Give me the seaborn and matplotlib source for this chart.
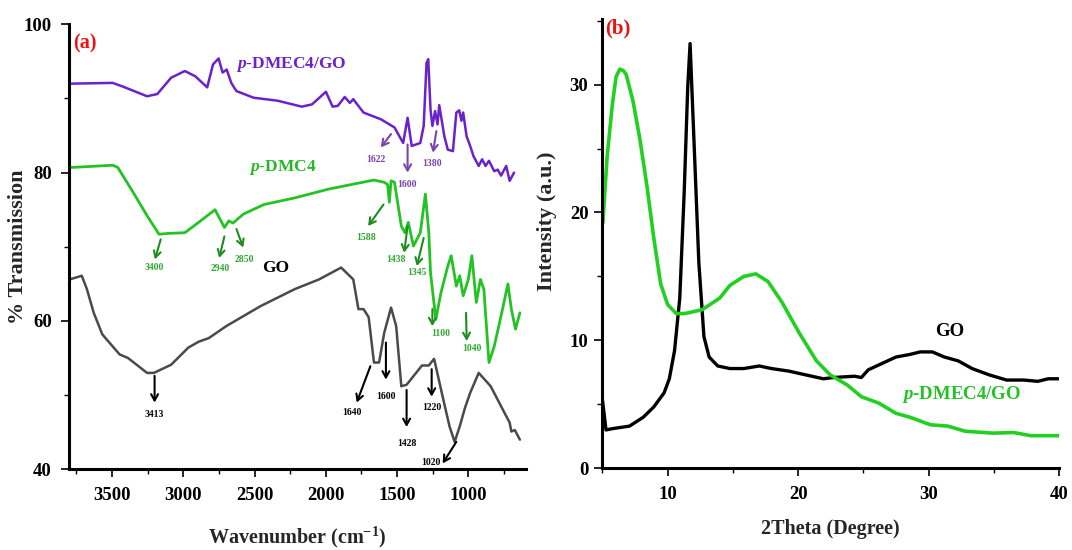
import matplotlib
matplotlib.use('Agg')
import matplotlib.pyplot as plt
import seaborn as sns

# ---------------- FTIR (panel a) ----------------
dmec4go_wn = [3785, 3495, 3423, 3254, 3182, 3085, 2989, 2916, 2832, 2791, 2752, 2724, 2695, 2663, 2627,
              2506, 2338, 2169, 2097, 1999, 1952, 1916, 1867, 1831, 1807, 1735, 1614, 1518, 1457, 1426,
              1397, 1337, 1313, 1293, 1281, 1265, 1252, 1233, 1216, 1204, 1168, 1144, 1108, 1084, 1064,
              1048, 1036, 1012, 987, 963, 927, 903, 879, 855, 818, 794, 770, 734, 710, 679]
dmec4go_T = [92.0, 92.1, 91.6, 90.3, 90.6, 92.8, 93.7, 93.0, 91.5, 94.6, 95.4, 93.5, 93.9, 92.1, 91.0,
             90.1, 89.7, 88.9, 89.2, 90.9, 88.9, 89.0, 90.2, 89.4, 89.9, 88.1, 87.2, 86.1, 84.0, 87.4,
             83.6, 84.0, 86.3, 94.8, 95.3, 88.5, 86.3, 88.3, 86.5, 89.1, 84.9, 83.1, 82.9, 88.1, 88.4,
             87.0, 88.1, 84.9, 83.6, 82.2, 80.9, 81.8, 80.9, 81.6, 80.2, 80.4, 79.6, 80.9, 78.9, 80.0]

dmc4_wn = [3785, 3495, 3459, 3350, 3254, 3170, 3109, 2989, 2892, 2777, 2711, 2680, 2651, 2579, 2434,
           2217, 1976, 1662, 1590, 1566, 1554, 1542, 1518, 1470, 1445, 1421, 1385, 1337, 1301, 1277,
           1265, 1252, 1228, 1192, 1144, 1120, 1084, 1060, 1036, 1000, 975, 944, 915, 891, 855,
           818, 770, 722, 698, 669, 638]
dmc4_T = [80.7, 81.0, 80.7, 77.3, 74.2, 71.7, 71.8, 71.9, 73.3, 75.0, 72.6, 73.5, 73.2, 74.4, 75.7,
          76.6, 77.8, 79.0, 78.7, 78.4, 76.0, 78.9, 78.7, 72.8, 71.9, 73.3, 70.1, 71.9, 77.1, 71.9,
          66.5, 64.3, 60.2, 63.8, 67.4, 68.8, 64.7, 66.1, 63.4, 65.6, 68.8, 62.5, 65.6, 64.3, 54.4,
          56.6, 60.7, 65.0, 61.6, 58.9, 61.1]

go_wn = [3797, 3712, 3676, 3628, 3568, 3447, 3387, 3254, 3206, 3085, 2965, 2892, 2820, 2699, 2458,
         2217, 2048, 1892, 1807, 1771, 1735, 1699, 1662, 1626, 1590, 1542, 1506, 1470, 1433, 1325,
         1277, 1240, 1180, 1132, 1096, 1060, 1023, 987, 927, 843, 770, 710, 698, 674, 638]
go_T = [65.6, 66.1, 64.3, 61.1, 58.2, 55.5, 55.0, 53.0, 53.0, 54.1, 56.4, 57.2, 57.7, 59.3, 62.0,
        64.3, 65.6, 67.2, 65.6, 61.6, 61.6, 60.5, 54.4, 54.4, 58.4, 61.8, 59.3, 51.2, 51.4, 54.0,
        54.0, 54.9, 49.8, 45.8, 43.7, 45.8, 48.3, 50.3, 53.0, 51.2, 48.5, 46.3, 45.1, 45.3, 44.0]

# ---------------- XRD (panel b) ----------------
xrd_dmec4go_2theta = [5.04, 5.36, 5.76, 6.05, 6.34, 6.60, 6.82, 7.35, 7.88, 8.41, 8.94, 9.47, 10.0, 10.66,
                      11.33, 12.65, 13.98, 14.77, 15.83, 16.76, 17.69, 18.75, 20.07, 21.40, 22.46, 23.78,
                      24.84, 26.17, 27.49, 28.55, 30.14, 31.47, 32.79, 34.91, 36.5, 37.83, 39.95]
xrd_dmec4go_I = [19.2, 24.3, 28.4, 30.6, 31.2, 31.1, 30.8, 28.7, 25.7, 22.1, 18.0, 14.4, 12.8, 12.1,
                 12.1, 12.4, 13.3, 14.3, 15.0, 15.2, 14.6, 13.0, 10.6, 8.4, 7.3, 6.5,
                 5.6, 5.1, 4.3, 4.0, 3.4, 3.3, 2.9, 2.75, 2.8, 2.55, 2.55]

xrd_go_2theta = [5.0, 5.28, 5.76, 7.08, 8.14, 8.94, 9.73, 10.13, 10.53, 10.93, 11.27, 11.54, 11.72, 12.07,
                 12.39, 12.78, 13.18, 13.84, 14.77, 15.83, 17.02, 17.95, 19.28, 20.60, 21.93, 22.72,
                 24.31, 24.84, 25.37, 26.43, 27.49, 28.55, 29.35, 30.28, 31.20, 32.26, 33.32, 34.65,
                 35.97, 37.30, 38.36, 39.15, 39.95]
xrd_go_I = [5.4, 3.0, 3.1, 3.3, 4.0, 4.8, 5.9, 7.0, 9.2, 13.3, 21.6, 29.8, 33.2, 24.3,
            16.1, 10.3, 8.7, 8.0, 7.8, 7.8, 8.0, 7.8, 7.6, 7.3, 7.0, 7.1,
            7.2, 7.1, 7.7, 8.2, 8.7, 8.9, 9.1, 9.1, 8.7, 8.4, 7.8, 7.3,
            6.9, 6.9, 6.8, 7.0, 7.0]

xticks_a = [3500, 3000, 2500, 2000, 1500, 1000]
yticks_a = [40, 60, 80, 100]
xticks_b = [10, 20, 30, 40]
yticks_b = [0, 10, 20, 30]

# peak annotations: label, text position, arrow start, arrow end
purple_ann = [("1622", (1650, 81.8), (1542, 85.2), (1614, 83.4)),
              ("1600", (1433, 78.4), (1426, 83.8), (1426, 80.0)),
              ("1380", (1252, 81.2), (1224, 85.6), (1248, 82.7))]
green_ann = [("3400", (3206, 67.2), (3158, 71.0), (3199, 68.3)),
             ("2940", (2743, 67.1), (2711, 71.4), (2748, 68.5)),
             ("2850", (2572, 68.3), (2627, 72.4), (2579, 69.9)),
             ("1588", (1718, 71.2), (1595, 75.7), (1703, 72.8)),
             ("1438", (1506, 68.3), (1426, 72.8), (1450, 69.2)),
             ("1345", (1361, 66.6), (1313, 71.2), (1361, 67.4)),
             ("1100", (1192, 58.3), (1252, 61.6), (1252, 59.3)),
             ("1040", (975, 56.3), (1016, 61.1), (1011, 57.3))]
black_ann = [("3413", (3206, 47.4), (3201, 52.6), (3201, 49.0)),
             ("1640", (1819, 47.6), (1687, 53.9), (1783, 49.0)),
             ("1600", (1578, 49.8), (1578, 57.1), (1578, 52.1)),
             ("1428", (1433, 43.5), (1433, 50.7), (1433, 45.7)),
             ("1220", (1257, 48.4), (1257, 53.5), (1257, 49.8)),
             ("1020", (1265, 40.9), (1084, 43.7), (1180, 40.8))]

# ---------------- style ----------------
sns.set_style('ticks')
plt.rcParams['font.family'] = ['Liberation Serif', 'DejaVu Serif']
plt.rcParams['font.weight'] = 'bold'
plt.rcParams['axes.labelweight'] = 'bold'
plt.rcParams['mathtext.fontset'] = 'custom'
plt.rcParams['mathtext.rm'] = 'Liberation Serif:bold'
plt.rcParams['mathtext.it'] = 'Liberation Serif:bold:italic'
plt.rcParams['mathtext.bf'] = 'Liberation Serif:bold'

PURPLE = '#6a22cc'
PURPLE_TXT = '#7a45a8'
GREEN = '#22c322'
GREEN_TXT = '#30a830'
GREEN_ARR = '#1f8c1f'
GRAY = '#4a4a4a'
GREEN_B = '#22d022'

fig = plt.figure(figsize=(10.72, 5.5), dpi=100)
axL = fig.add_axes([0.0639, 0.1467, 0.4268, 0.8091])
axR = fig.add_axes([0.5619, 0.1485, 0.4262, 0.8164])

sns.lineplot(x=dmec4go_wn, y=dmec4go_T, ax=axL, color=PURPLE, linewidth=1.8, sort=False, estimator=None)
sns.lineplot(x=dmc4_wn, y=dmc4_T, ax=axL, color=GREEN, linewidth=2.0, sort=False, estimator=None)
sns.lineplot(x=go_wn, y=go_T, ax=axL, color=GRAY, linewidth=1.8, sort=False, estimator=None)

sns.lineplot(x=xrd_go_2theta, y=xrd_go_I, ax=axR, color='black', linewidth=2.4, sort=False, estimator=None)
sns.lineplot(x=xrd_dmec4go_2theta, y=xrd_dmec4go_I, ax=axR, color=GREEN_B, linewidth=2.6, sort=False,
             estimator=None)

for ax in (axL, axR):
    sns.despine(ax=ax)
    for s in ('left', 'bottom'):
        ax.spines[s].set_linewidth(2.2)
        ax.spines[s].set_color('black')
    ax.tick_params(which='major', direction='out', length=6, width=1.2, colors='black', labelsize=13.5)
    ax.tick_params(which='minor', direction='out', length=3.5, width=1.0, colors='black')
    for lab in ax.get_xticklabels() + ax.get_yticklabels():
        lab.set_fontweight('bold')

# panel a axes
axL.set_xlim(3805, 595)
axL.set_ylim(40, 100)
axL.set_xticks(xticks_a)
axL.set_xticks([3750, 3250, 2750, 2250, 1750, 1250, 750], minor=True)
axL.set_yticks(yticks_a)
axL.set_yticks([50, 70, 90], minor=True)
axL.tick_params(axis='x', which='major', pad=7)
axL.tick_params(axis='y', which='major', pad=6)
axL.set_xlabel('Wavenumber (cm$^{-1}$)', fontsize=14.5, fontweight='bold', va='center', ha='center')
axL.xaxis.set_label_coords(0.5, -0.152)
axL.set_ylabel('% Transmission', fontsize=16, fontweight='bold', va='center', ha='center')
axL.yaxis.set_label_coords(-0.110, 0.5)

# panel b axes
axR.set_xlim(5, 40)
axR.set_ylim(0, 35.1)
axR.set_xticks(xticks_b)
axR.set_xticks([5, 15, 25, 35], minor=True)
axR.set_yticks(yticks_b)
axR.set_yticks([5, 15, 25, 35], minor=True)
axR.tick_params(axis='x', which='major', pad=7)
axR.tick_params(axis='y', which='major', pad=4)
axR.set_xlabel('2Theta (Degree)', fontsize=14.5, fontweight='bold', va='center', ha='center')
axR.xaxis.set_label_coords(0.5, -0.135)
axR.set_ylabel('Intensity (a.u.)', fontsize=16, fontweight='bold', va='center', ha='center')
axR.yaxis.set_label_coords(-0.121, 0.551)


def annotate(ax, items, txt_color, arr_color):
    for label, tpos, start, end in items:
        ax.annotate('', xy=end, xytext=start,
                    arrowprops=dict(arrowstyle='->,head_length=0.45,head_width=0.25',
                                    color=arr_color, lw=1.5, shrinkA=0, shrinkB=0))
        ax.text(tpos[0], tpos[1], label, fontsize=7, fontweight='bold', color=txt_color,
                ha='center', va='center')


annotate(axL, purple_ann, PURPLE_TXT, PURPLE_TXT)
annotate(axL, green_ann, GREEN_TXT, GREEN_ARR)
annotate(axL, black_ann, 'black', 'black')

axL.text(2241, 94.6, r'$p$-DMEC4/GO', fontsize=12.5, color=PURPLE, ha='center', va='center')
axL.text(2301, 80.7, r'$p$-DMC4', fontsize=12.5, color='#27b827', ha='center', va='center')
axL.text(2350, 67.2, 'GO', fontsize=12.5, color='black', ha='center', va='center')
axL.text(3687, 97.4, '(a)', fontsize=14.5, color='#ee1111', ha='center', va='center')

axR.text(31.6, 10.7, 'GO', fontsize=13.5, color='black', ha='center', va='center')
axR.text(32.5, 5.8, r'$p$-DMEC4/GO', fontsize=13.5, color='#22c322', ha='center', va='center')
axR.text(6.2, 34.4, '(b)', fontsize=15, color='#ee1111', ha='center', va='center', clip_on=False)

fig.savefig('out.png', dpi=100)
